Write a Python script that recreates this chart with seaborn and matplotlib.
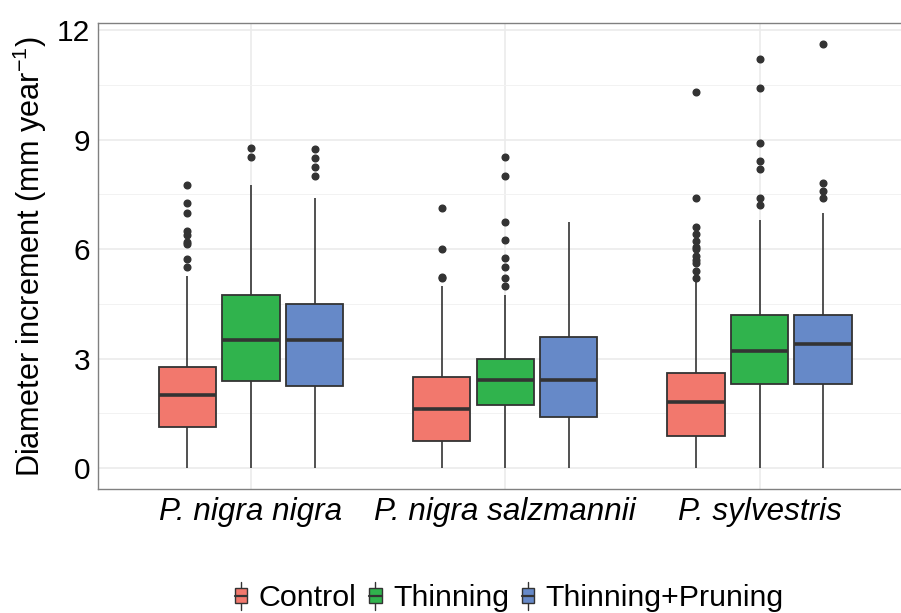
import numpy as np
import pandas as pd
import matplotlib
matplotlib.use("Agg")
import matplotlib.pyplot as plt
import seaborn as sns
from matplotlib.ticker import MultipleLocator
from matplotlib.legend_handler import HandlerBase
from matplotlib.patches import Rectangle
from matplotlib.lines import Line2D

# ---------------- data ----------------
species = ["P. nigra nigra", "P. nigra salzmannii", "P. sylvestris"]
treatments = ["Control", "Thinning", "Thinning+Pruning"]
colors = ["#F2786D", "#30B34D", "#6689C8"]

# rows: species, columns: treatments
q1 = [[1.13, 2.39, 2.25],
      [0.74, 1.74, 1.40],
      [0.89, 2.30, 2.30]]
median = [[2.00, 3.50, 3.50],
          [1.63, 2.41, 2.41],
          [1.80, 3.20, 3.40]]
q3 = [[2.78, 4.74, 4.49],
      [2.48, 2.99, 3.59],
      [2.59, 4.19, 4.19]]
whisker_low = [[0.0, 0.0, 0.0],
               [0.0, 0.0, 0.0],
               [0.0, 0.0, 0.0]]
whisker_high = [[5.25, 7.75, 7.39],
                [5.00, 4.74, 6.75],
                [5.10, 6.79, 7.00]]
outliers_nigra = [
    [5.50, 5.74, 6.15, 6.20, 6.38, 6.50, 7.00, 7.25, 7.75],
    [8.52, 8.77],
    [8.00, 8.25, 8.50, 8.75],
]
outliers_salzmannii = [
    [5.20, 5.24, 6.01, 7.12],
    [5.00, 5.21, 5.51, 5.76, 6.26, 6.75, 8.00, 8.51],
    [],
]
outliers_sylvestris = [
    [5.21, 5.41, 5.61, 5.70, 5.82, 6.00, 6.06, 6.21, 6.40, 6.60, 7.40, 10.31],
    [7.20, 7.40, 8.20, 8.41, 8.90, 10.40, 11.20],
    [7.40, 7.60, 7.80, 11.61],
]
outliers = [outliers_nigra, outliers_salzmannii, outliers_sylvestris]

# ---------------- build a sample reproducing each box's statistics ----------------
M = 20
rows = []
for i, sp in enumerate(species):
    for j, tr in enumerate(treatments):
        out = outliers[i][j]
        vals = ([whisker_low[i][j]] + [q1[i][j]] * M + [median[i][j]] * M
                + [q3[i][j]] * M + [whisker_high[i][j]] * (M - len(out)) + list(out))
        for v in vals:
            rows.append((sp, tr, v))
df = pd.DataFrame(rows, columns=["species", "treatment", "value"])

# ---------------- plot ----------------
sns.set_theme(style="white")
plt.rcParams["font.family"] = ["Liberation Sans", "DejaVu Sans"]
plt.rcParams["mathtext.fontset"] = "custom"
plt.rcParams["mathtext.rm"] = "Liberation Sans"

fig = plt.figure(figsize=(9.01, 6.13), dpi=100)
ax = fig.add_axes([0.1093, 0.2023, 0.903, 0.760])

edge = "#333333"
sns.boxplot(
    data=df, x="species", y="value", hue="treatment",
    order=species, hue_order=treatments, palette=colors, saturation=1,
    width=0.75, gap=0.1, linecolor=edge, linewidth=1.3,
    showcaps=False,
    medianprops=dict(linewidth=2.6, color=edge),
    whiskerprops=dict(linewidth=1.2, color=edge),
    flierprops=dict(marker="o", markersize=4.8, markerfacecolor=edge,
                    markeredgecolor=edge),
    ax=ax,
)

ax.set_xlim(-0.6, 2.6)
ax.set_ylim(-0.575, 12.19)
ax.yaxis.set_major_locator(MultipleLocator(3))
ax.yaxis.set_minor_locator(MultipleLocator(1.5))
ax.set_axisbelow(True)
ax.grid(which="major", axis="both", color="#EBEBEB", linewidth=1.2)
ax.grid(which="minor", axis="y", color="#F2F2F2", linewidth=0.7)

for s in ax.spines.values():
    s.set_visible(True)
    s.set_color("#808080")
    s.set_linewidth(1.0)

ax.tick_params(axis="both", which="major", length=4, width=1, color=edge,
               labelcolor="black", pad=2)
ax.tick_params(axis="y", labelsize=21.5)
ax.tick_params(axis="x", labelsize=22.6)
ax.tick_params(axis="y", which="minor", length=0)
ax.set_xlabel("")
ax.set_ylabel(r"Diameter increment (mm year$^{\mathregular{-1}}$)",
              fontsize=22.1, color="black", labelpad=6)
for lab in ax.get_xticklabels():
    lab.set_fontstyle("italic")


class BoxHandler(HandlerBase):
    def create_artists(self, legend, orig_handle, xdescent, ydescent,
                       width, height, fontsize, trans):
        fc = orig_handle.get_facecolor()
        cx = -xdescent + width / 2
        y0 = -ydescent
        bw = width * 0.75
        by0 = y0 + height * 0.18
        bh = height * 0.64
        w = Line2D([cx, cx], [y0 - height * 0.1, y0 + height * 1.1],
                   color=edge, lw=1.0, transform=trans)
        r = Rectangle((cx - bw / 2, by0), bw, bh, facecolor=fc,
                      edgecolor=edge, lw=1.0, transform=trans)
        m = Line2D([cx - bw / 2, cx + bw / 2], [by0 + bh / 2, by0 + bh / 2],
                   color=edge, lw=1.6, transform=trans)
        return [w, r, m]


handles = [Rectangle((0, 0), 1, 1, facecolor=c) for c in colors]
if ax.get_legend() is not None:
    ax.get_legend().remove()
leg = fig.legend(handles, treatments, loc="center", ncol=3,
                 bbox_to_anchor=(0.564, 0.024), frameon=False, fontsize=21.9,
                 handler_map={Rectangle: BoxHandler()},
                 handlelength=0.55, handleheight=0.8, handletextpad=0.3,
                 columnspacing=0.35)
for t in leg.get_texts():
    t.set_color("black")

fig.savefig("out.png", dpi=100)
